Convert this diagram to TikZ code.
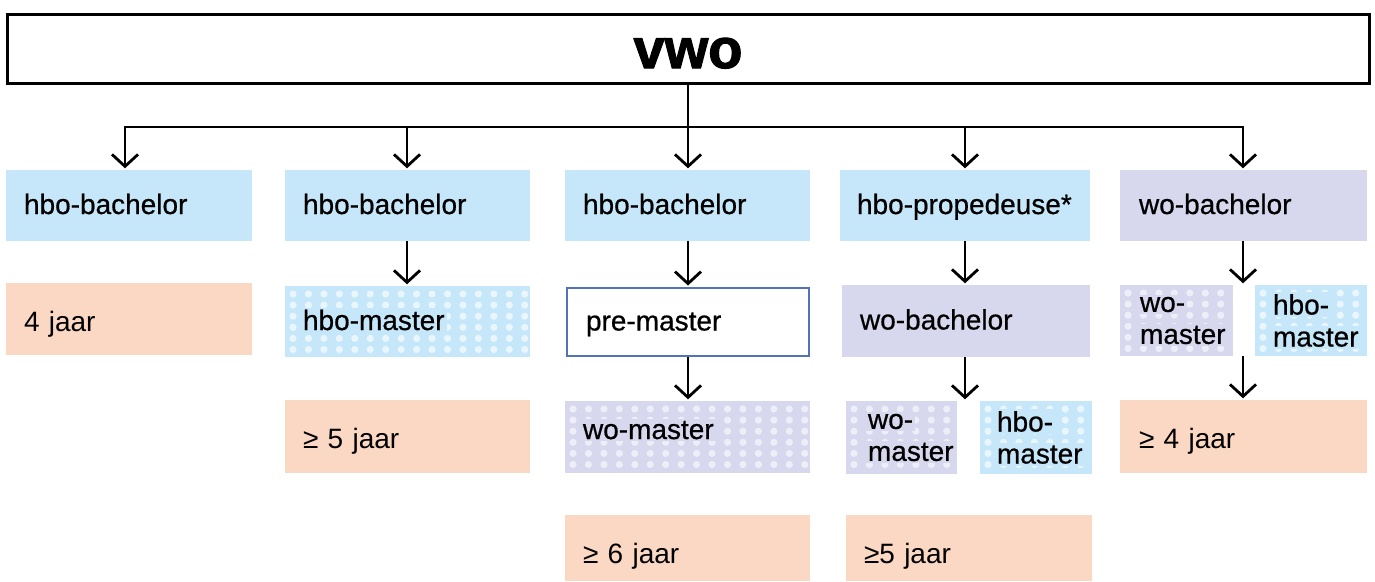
\documentclass[tikz,border=0pt]{standalone}
\usepackage{fontspec}
\setmainfont{Liberation Sans}
\newfontfamily\labelfont[FakeBold=0.6]{Liberation Sans}
\newfontfamily\heavyfont[FakeBold=2]{Liberation Sans Bold}
\usetikzlibrary{arrows.meta,calc}
\definecolor{blueF}{HTML}{C6E7F9}
\definecolor{lavF}{HTML}{D7D7EE}
\definecolor{peachF}{HTML}{FBD8C4}
\definecolor{blueD}{HTML}{EAF6FD}
\definecolor{lavD}{HTML}{EEEEF8}
\definecolor{preB}{HTML}{5472BA}
\newcommand{\dotgrid}[1]{\foreach \i in {0,...,16}{\foreach \j in {0,...,5}{\fill[#1] ([shift={(8+15.45*\i,8+11.1*\j)}]path picture bounding box.north west) circle (3.6pt);}}}
\newcommand{\bgb}[1]{\hspace*{-2pt}{\setlength{\fboxsep}{2pt}\colorbox{blueF}{#1}}}
\newcommand{\bgl}[1]{\hspace*{-2pt}{\setlength{\fboxsep}{2pt}\colorbox{lavF}{#1}}}
\hfuzz=50pt
\tikzset{
  lb/.style={inner xsep=18pt, inner ysep=0pt, align=left, anchor=center,
    font=\labelfont\fontsize{28}{32}\selectfont},
  one/.style={text height=17pt, text depth=0pt},
  jr/.style={lb, fill=peachF, text height=24pt, text depth=0pt, font=\normalfont\fontsize{28}{32}\selectfont},
  bluebox/.style={lb, fill=blueF},
  lavbox/.style={lb, fill=lavF},
  bluedots/.style={lb, fill=blueF, path picture={\dotgrid{blueD}}},
  lavdots/.style={lb, fill=lavF, path picture={\dotgrid{lavD}}},
  arr/.style={line width=2.8pt, -{Straight Barb[length=12pt,width=26pt]}, shorten >=1.5pt},
  ln/.style={line width=2.8pt}
}
\begin{document}
\begin{tikzpicture}[x=1pt,y=-1pt]
\useasboundingbox (0,0) rectangle (1375,581);
% top box
\node[draw, line width=3pt, minimum width=1362pt, minimum height=69pt, inner sep=0pt,
  font=\heavyfont\fontsize{56}{60}\selectfont, text height=39pt, text depth=0pt] (top) at (688,48.5) {vwo};
% row 1
\node[bluebox, one, text width=210pt, minimum height=71pt] (b1) at (129,205.5) {hbo-bachelor};
\node[bluebox, one, text width=209pt, minimum height=71pt] (b2) at (407.5,205.5) {hbo-bachelor};
\node[bluebox, one, text width=209pt, minimum height=71pt] (b3) at (687.5,205.5) {hbo-bachelor};
\node[bluebox, one, inner xsep=17pt, text width=216pt, minimum height=71pt] (b4) at (965,205.5) {hbo-propedeuse*};
\node[lavbox, one, inner xsep=19pt, text width=209pt, minimum height=71pt] (b5) at (1243.5,205.5) {wo-bachelor};
% row 2
\node[jr, text width=210pt, minimum height=72pt] (y1) at (129,319) {4 jaar};
\node[bluedots, one, text width=209pt, minimum height=71pt] (hm2) at (407.5,321.5) {\bgb{hbo-master}};
\node[lb, one, draw=preB, line width=2pt, fill=white, inner xsep=19pt, text width=204pt, minimum height=68pt] (pm3) at (688,322) {pre-master};
\node[lavbox, one, text width=212pt, minimum height=72pt] (wb4) at (966,321) {wo-bachelor};
\node[lavdots, inner xsep=20pt, text width=73pt, minimum height=71pt] (wm5) at (1176.5,320.5) {\bgl{wo-}\\\bgl{master}};
\node[bluedots, inner xsep=18pt, text width=76pt, minimum height=71pt] (hm5) at (1311,320.5) {\bgb{hbo-}\\\bgb{master}};
% row 3
\node[jr, text width=209pt, minimum height=73pt] (y2) at (407.5,436.5) {≥ 5 jaar};
\node[lavdots, text height=4pt, text depth=0pt, text width=209pt, minimum height=72pt] (wm3) at (687.5,437) {\bgl{wo-master}};
\node[lavdots, inner xsep=22pt, text width=67pt, minimum height=73pt] (wm4) at (901.5,437.5) {\bgl{wo-}\\\bgl{master}};
\node[bluedots, inner xsep=17pt, text width=78pt, minimum height=73pt] (hm4) at (1036,437.5) {\bgb{hbo-}\\\bgb{master}};
\node[jr, inner xsep=19pt, text width=209pt, minimum height=73pt] (y5) at (1243.5,436.5) {≥ 4 jaar};
% row 4
\node[jr, text height=30pt, text width=209pt, minimum height=66pt] (y3) at (687.5,548) {≥ 6 jaar};
\node[jr, text height=30pt, text width=210pt, minimum height=66pt] (y4) at (969,548) {≥5 jaar};
% connectors
\coordinate (j1) at (125,127);
\coordinate (j2) at (407,127);
\coordinate (j4) at (965,127);
\coordinate (j5) at (1243,127);
\draw[ln] (top.south) -- (top.south |- j1);
\draw[arr] (j2) -- (j1) -- (j1 |- b1.north);
\draw[arr] (j4) -- (j5) -- (j5 |- b5.north);
\draw[ln] (j2) -- (j4);
\draw[arr] (j2) -- (j2 |- b2.north);
\draw[arr] (top.south |- j1) -- (top.south |- b3.north);
\draw[arr] (j4) -- (j4 |- b4.north);
\draw[arr] (j2 |- b2.south) -- (j2 |- hm2.north);
\draw[arr] (top.south |- b3.south) -- (top.south |- pm3.north);
\draw[arr] (top.south |- pm3.south) -- (top.south |- wm3.north);
\draw[arr] (j4 |- b4.south) -- (j4 |- wb4.north);
\draw[arr] (j4 |- wb4.south) -- (j4 |- wm4.north);
\draw[arr] (j5 |- b5.south) -- (j5 |- wm5.north);
\draw[arr] (j5 |- wm5.south) -- (j5 |- y5.north);
\end{tikzpicture}
\end{document}
